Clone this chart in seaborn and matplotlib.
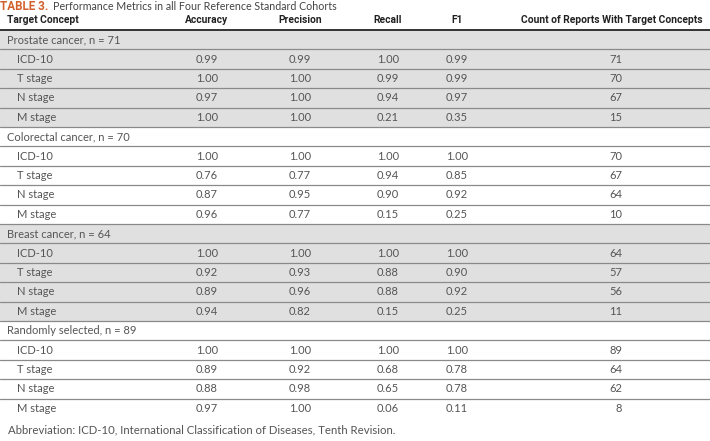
import matplotlib
matplotlib.use('Agg')
import matplotlib.pyplot as plt
import seaborn as sns

sns.set_theme(style='white')

groups = ['Prostate cancer, n = 71', 'Colorectal cancer, n = 70',
          'Breast cancer, n = 64', 'Randomly selected, n = 89']
concepts = ['ICD-10', 'T stage', 'N stage', 'M stage']
accuracy = [[0.99, 1.00, 0.97, 1.00],
            [1.00, 0.76, 0.87, 0.96],
            [1.00, 0.92, 0.89, 0.94],
            [1.00, 0.89, 0.88, 0.97]]
precision = [[0.99, 1.00, 1.00, 1.00],
             [1.00, 0.77, 0.95, 0.77],
             [1.00, 0.93, 0.96, 0.82],
             [1.00, 0.92, 0.98, 1.00]]
recall = [[1.00, 0.99, 0.94, 0.21],
          [1.00, 0.94, 0.90, 0.15],
          [1.00, 0.88, 0.88, 0.15],
          [1.00, 0.68, 0.65, 0.06]]
f1 = [[0.99, 0.99, 0.97, 0.35],
      [1.00, 0.85, 0.92, 0.25],
      [1.00, 0.90, 0.92, 0.25],
      [1.00, 0.78, 0.78, 0.11]]
counts = [[71, 70, 67, 15],
          [70, 67, 64, 10],
          [64, 57, 56, 11],
          [89, 64, 62, 8]]
headers = ['Target Concept', 'Accuracy', 'Precision', 'Recall', 'F1',
           'Count of Reports With Target Concepts']

# layout (pixels)
col_x = [207, 300, 388, 457]
count_x = 622
top = 30
row_h = 19.4
shade = '#e1e0e0'
txt = '#555555'
body_font = dict(family=['Lato', 'DejaVu Sans'], fontweight='normal', fontsize=8.0, color=txt)
head_font = dict(family=['Roboto', 'DejaVu Sans'], fontweight='bold', fontsize=7.4, color='#222222')

fig = plt.figure(figsize=(7.1, 4.41), dpi=100)
ax = fig.add_axes([0, 0, 1, 1])
ax.set_xlim(0, 710)
ax.set_ylim(441, 0)
ax.axis('off')

# title
ax.text(0, 6, 'TABLE 3.', ha='left', va='center', color='#d2602c',
        family=['Roboto', 'DejaVu Sans'], fontweight='bold', fontsize=8.4)
ax.text(53, 6, 'Performance Metrics in all Four Reference Standard Cohorts',
        ha='left', va='center', **{**body_font, 'color': '#444444', 'fontsize': 7.7})

# header
hy = 20
ax.text(7, hy, headers[0], ha='left', va='center', **head_font)
for x, h in zip(col_x, headers[1:5]):
    ax.text(x, hy, h, ha='center', va='center', **head_font)
ax.text(703, hy, headers[5], ha='right', va='center', **head_font)
ax.axhline(top, color='#333333', lw=1.4)

r = 0
for g, name in enumerate(groups):
    y0 = top + r * row_h
    if g % 2 == 0:
        ax.axhspan(y0, y0 + 5 * row_h, color=shade, lw=0, zorder=0)
    ax.text(7, y0 + row_h / 2, name, ha='left', va='center', **body_font)
    r += 1
    for i, c in enumerate(concepts):
        yc = top + r * row_h + row_h / 2
        ax.text(17, yc, c, ha='left', va='center', **body_font)
        for x, vals in zip(col_x, [accuracy, precision, recall, f1]):
            ax.text(x, yc, f'{vals[g][i]:.2f}', ha='center', va='center', **body_font)
        ax.text(count_x, yc, str(counts[g][i]), ha='right', va='center', **body_font)
        r += 1

for k in range(1, r):
    ax.axhline(top + k * row_h, color='#8a8a8a', lw=0.9)

ax.text(8, 430, 'Abbreviation: ICD-10, International Classification of Diseases, Tenth Revision.',
        ha='left', va='center', **{**body_font, 'fontsize': 8.2})

fig.savefig('out.png', dpi=100)
